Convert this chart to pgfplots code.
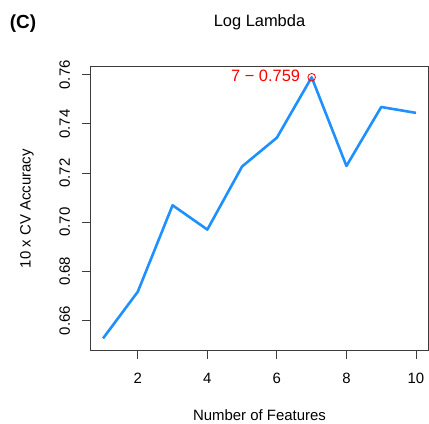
\documentclass[border=0pt]{standalone}
\usepackage{pgfplots}
\pgfplotsset{compat=1.18}
\usepackage{fontspec}
\setmainfont{Liberation Sans}
\definecolor{dodger}{RGB}{30,144,255}
\definecolor{axgray}{RGB}{60,60,60}
\begin{document}
\begin{tikzpicture}
\path[use as bounding box] (-90.5bp,-73.3bp) rectangle (338.5bp,350.7bp);
\begin{axis}[
  at={(0,0)}, anchor=south west,
  scale only axis, width=338bp, height=284bp,
  xmin=0.64, xmax=10.36, ymin=0.6477, ymax=0.7633,
  xtick={2,4,6,8,10},
  ytick={0.66,0.68,0.70,0.72,0.74,0.76},
  axis line style={axgray, line width=0.9bp},
  every tick/.style={axgray, line width=0.9bp},
  tick align=outside, major tick length=8bp,
  xtick pos=bottom, ytick pos=left,
  /pgf/number format/assume math mode=true,
  yticklabel style={/pgf/number format/fixed, /pgf/number format/precision=2, /pgf/number format/fixed zerofill, xshift=-12.5bp, rotate=90, anchor=base, font=\fontsize{15}{18}\selectfont},
  xticklabel style={anchor=center, yshift=-19.6bp, font=\fontsize{15}{18}\selectfont},
  clip=false,
  xlabel={Number of Features},
  ylabel={10 x CV Accuracy},
  every axis x label/.style={at={(axis description cs:0.5,0)}, yshift=-64bp, anchor=center, font=\fontsize{15}{18}\selectfont},
  every axis y label/.style={at={(axis description cs:0,0.5)}, xshift=-63.5bp, rotate=90, anchor=center, font=\fontsize{15}{18}\selectfont},
  title={Log Lambda},
  title style={at={(axis description cs:0.5,1)}, anchor=center, yshift=38.4bp, font=\fontsize{16.5}{19}\selectfont},
]
\addplot[dodger, line width=2.6bp, line join=round] coordinates {
(1,0.6527) (2,0.6717) (3,0.7069) (4,0.6970) (5,0.7227)
(6,0.7344) (7,0.7590) (8,0.7229) (9,0.7469) (10,0.7445)
};
\addplot[red, only marks, mark=o, mark size=3.8bp, mark options={line width=0.8bp}] coordinates {(7,0.759)};
\node[red, anchor=east, font=\fontsize{16.5}{19}\selectfont] at (axis cs:7,0.759) [xshift=-8bp, yshift=1.5bp] {7 − 0.759};
\node[font=\bfseries\fontsize{19}{22}\selectfont, anchor=center] at (axis description cs:0,1) [xshift=-67.5bp, yshift=43.2bp] {(C)};
\end{axis}
\end{tikzpicture}
\end{document}
